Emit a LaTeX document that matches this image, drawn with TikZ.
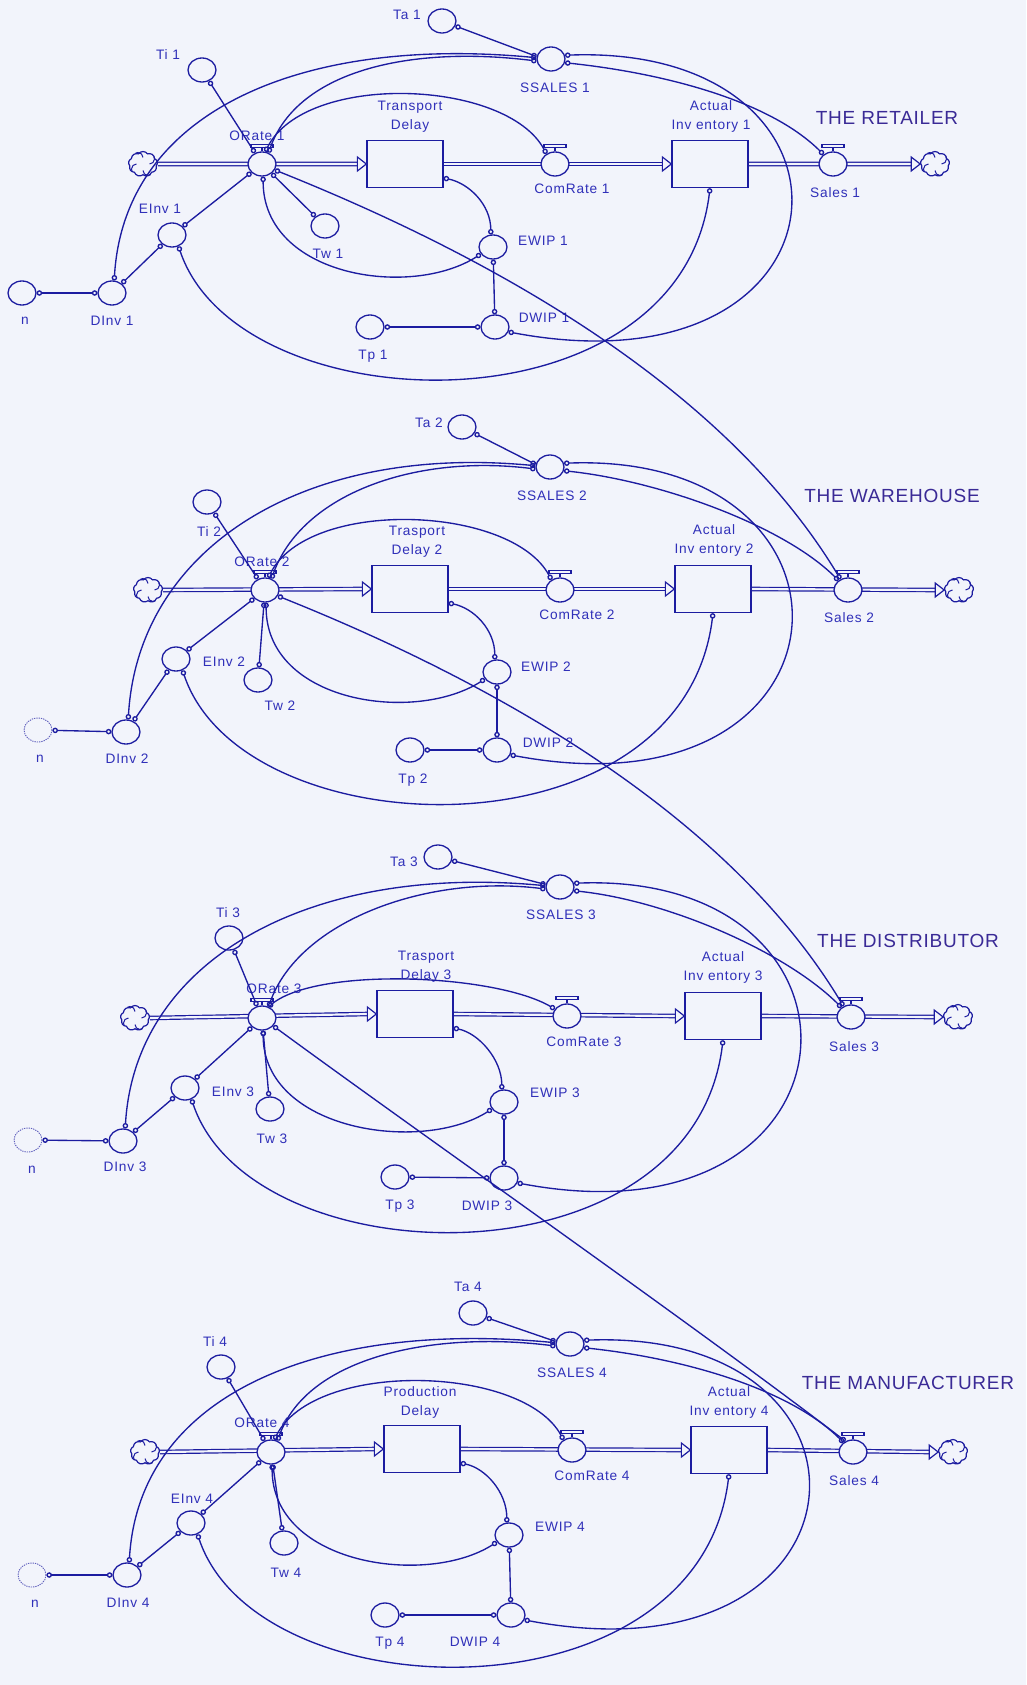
\documentclass[tikz,border=0pt]{standalone}
\usepackage{fontspec}
\setmainfont{Liberation Sans}
\newfontfamily\lblfam[LetterSpace=6]{Liberation Sans}
\newfontfamily\ttlfam[LetterSpace=4]{Liberation Sans}
\usetikzlibrary{shapes.geometric,shapes.symbols,arrows.meta,backgrounds}
\definecolor{ink}{RGB}{28,28,160}
\definecolor{txt}{RGB}{48,48,185}
\definecolor{ttlc}{RGB}{58,42,150}
\definecolor{bg}{RGB}{242,244,251}
\newcommand\vhandle[1]{%
  \draw[ink,line width=1.2pt] (#1.north) -- ++(0,-4);
  \draw[ink,line width=1.2pt,fill=bg] ([shift={(-11,-4)}]#1.north) rectangle ([shift={(11,-7)}]#1.north);}
\newcommand\swirl[1]{%
  \foreach \a in {0,90,180,270}{\draw[ink,line width=1pt] ([shift={(\a:6.5)}]#1.center) arc[start angle=\a+90, delta angle=-120, radius=5];}}
\newcommand\tri[1]{\draw[ink,line width=1.2pt,fill=bg] (#1.west) -- ++(-9,-7) -- ++(0,14) -- cycle;}
\begin{document}
\begin{tikzpicture}[x=1pt,y=-1pt,
  auxv/.style={ellipse,draw=ink,fill=bg,line width=1.3pt,minimum width=28pt,minimum height=24pt,inner sep=0pt},
  ghost/.style={auxv,densely dotted,line width=0.9pt,draw=ink!70},
  valve/.style={auxv},
  stock/.style={rectangle,draw=ink,fill=bg,line width=1.3pt,minimum width=76pt,minimum height=47pt,inner sep=0pt},
  cloudn/.style={cloud,cloud puffs=9,cloud puff arc=110,aspect=1.1,draw=ink,fill=bg,line width=1.2pt,minimum width=29pt,minimum height=25pt,inner sep=0pt},
  lbl/.style={text=txt,font=\lblfam\fontsize{13.7}{19}\selectfont,inner sep=0pt,align=center},
  ttl/.style={text=ttlc,font=\ttlfam\fontsize{19}{21}\selectfont,inner sep=0pt},
  link/.style={draw=ink,line width=1.35pt,{Circle[open,length=5.5pt,width=5.5pt]}-{Circle[open,length=5.5pt,width=5.5pt]}},
  pipe/.style={draw=ink,line width=1.2pt,double=bg,double distance=2.2pt}]
\path[use as bounding box] (0,0) rectangle (1026,1685);

% ---------------- Section 1: retailer
\node[auxv] (ta1) at (442,21) {};
\node[auxv] (ti1) at (202,70) {};
\node[cloudn] (src1) at (143,164) {};
\node[valve] (or1) at (262,164) {};
\node[stock] (td1) at (405,164) {};
\node[auxv] (einv1) at (172,235) {};
\node[auxv] (tw1) at (325,226) {};
\node[auxv] (n1) at (22,293) {};
\node[auxv] (dinv1) at (112,293) {};
\node[auxv] (tp1) at (370,327) {};
\node[auxv] (ewip1) at (493,247) {};
\node[auxv] (dwip1) at (495,327) {};
\node[auxv] (ss1) at (551,59) {};
\node[valve] (cr1) at (555,164) {};
\node[stock] (ai1) at (710,164) {};
\node[valve] (sal1) at (833,164) {};
\node[cloudn] (snk1) at (935,164) {};

\node[lbl] (lta1) at (407,15) {Ta 1};
\node[lbl] (lti1) at (168,55) {Ti 1};
\node[lbl] (lor1) at (257,136) {ORate 1};
\node[lbl] (ltd1) at (410,117) {Transport\\Delay};
\node[lbl] (leinv1) at (160,209) {EInv 1};
\node[lbl] (ltw1) at (328,254) {Tw 1};
\node[lbl] (ln1) at (25,321) {n};
\node[lbl] (ldinv1) at (112,321) {DInv 1};
\node[lbl] (ltp1) at (373,356) {Tp 1};
\node[lbl] (lewip1) at (543,241) {EWIP 1};
\node[lbl] (ldwip1) at (544,318) {DWIP 1};
\node[lbl] (lss1) at (555,88) {SSALES 1};
\node[lbl] (lcr1) at (572,189) {ComRate 1};
\node[lbl] (lai1) at (711,116) {Actual\\Inv entory 1};
\node[lbl] (lsal1) at (835,193) {Sales 1};
\node[ttl] (title1) at (887,118) {THE RETAILER};

% ---------------- Section 2: warehouse
\node[auxv] (ta2) at (462,427) {};
\node[auxv] (ti2) at (207,502) {};
\node[cloudn] (src2) at (148,590) {};
\node[valve] (or2) at (265,590) {};
\node[stock] (td2) at (410,589) {};
\node[auxv] (einv2) at (176,659) {};
\node[auxv] (tw2) at (258,680) {};
\node[ghost] (n2) at (38,730) {};
\node[auxv] (dinv2) at (126,732) {};
\node[auxv] (tp2) at (410,750) {};
\node[auxv] (ewip2) at (497,672) {};
\node[auxv] (dwip2) at (497,750) {};
\node[auxv] (ss2) at (550,467) {};
\node[valve] (cr2) at (560,590) {};
\node[stock] (ai2) at (713,589) {};
\node[valve] (sal2) at (848,590) {};
\node[cloudn] (snk2) at (959,590) {};

\node[lbl] (lta2) at (429,423) {Ta 2};
\node[lbl] (lti2) at (209,532) {Ti 2};
\node[lbl] (lor2) at (262,562) {ORate 2};
\node[lbl] (ltd2) at (417,542) {Trasport\\Delay 2};
\node[lbl] (leinv2) at (224,662) {EInv 2};
\node[lbl] (ltw2) at (280,706) {Tw 2};
\node[lbl] (ln2) at (40,759) {n};
\node[lbl] (ldinv2) at (127,759) {DInv 2};
\node[lbl] (ltp2) at (413,780) {Tp 2};
\node[lbl] (lewip2) at (546,667) {EWIP 2};
\node[lbl] (ldwip2) at (548,743) {DWIP 2};
\node[lbl] (lss2) at (552,496) {SSALES 2};
\node[lbl] (lcr2) at (577,615) {ComRate 2};
\node[lbl] (lai2) at (714,540) {Actual\\Inv entory 2};
\node[lbl] (lsal2) at (849,618) {Sales 2};
\node[ttl] (title2) at (892,496) {THE WAREHOUSE};

% ---------------- Section 3: distributor
\node[auxv] (ta3) at (438,857) {};
\node[auxv] (ti3) at (229,938) {};
\node[cloudn] (src3) at (135,1018) {};
\node[valve] (or3) at (262,1018) {};
\node[stock] (td3) at (415,1014) {};
\node[auxv] (einv3) at (185,1088) {};
\node[auxv] (tw3) at (270,1109) {};
\node[ghost] (n3) at (28,1140) {};
\node[auxv] (dinv3) at (123,1141) {};
\node[auxv] (tp3) at (395,1177) {};
\node[auxv] (ewip3) at (504,1102) {};
\node[auxv] (dwip3) at (504,1178) {};
\node[auxv] (ss3) at (560,887) {};
\node[valve] (cr3) at (567,1016) {};
\node[stock] (ai3) at (723,1016) {};
\node[valve] (sal3) at (851,1017) {};
\node[cloudn] (snk3) at (958,1017) {};

\node[lbl] (lta3) at (404,862) {Ta 3};
\node[lbl] (lti3) at (228,913) {Ti 3};
\node[lbl] (lor3) at (274,989) {ORate 3};
\node[lbl] (ltd3) at (426,967) {Trasport\\Delay 3};
\node[lbl] (leinv3) at (233,1092) {EInv 3};
\node[lbl] (ltw3) at (272,1139) {Tw 3};
\node[lbl] (ln3) at (32,1170) {n};
\node[lbl] (ldinv3) at (125,1167) {DInv 3};
\node[lbl] (ltp3) at (400,1206) {Tp 3};
\node[lbl] (lewip3) at (555,1093) {EWIP 3};
\node[lbl] (ldwip3) at (487,1206) {DWIP 3};
\node[lbl] (lss3) at (561,915) {SSALES 3};
\node[lbl] (lcr3) at (584,1042) {ComRate 3};
\node[lbl] (lai3) at (723,967) {Actual\\Inv entory 3};
\node[lbl] (lsal3) at (854,1047) {Sales 3};
\node[ttl] (title3) at (908,941) {THE DISTRIBUTOR};

% ---------------- Section 4: manufacturer
\node[auxv] (ta4) at (473,1313) {};
\node[auxv] (ti4) at (221,1367) {};
\node[cloudn] (src4) at (145,1452) {};
\node[valve] (or4) at (271,1452) {};
\node[stock] (td4) at (422,1449) {};
\node[auxv] (einv4) at (191,1523) {};
\node[auxv] (tw4) at (284,1543) {};
\node[ghost] (n4) at (32,1575) {};
\node[auxv] (dinv4) at (127,1575) {};
\node[auxv] (tp4) at (385,1615) {};
\node[auxv] (ewip4) at (509,1535) {};
\node[auxv] (dwip4) at (511,1615) {};
\node[auxv] (ss4) at (570,1344) {};
\node[valve] (cr4) at (572,1450) {};
\node[stock] (ai4) at (729,1450) {};
\node[valve] (sal4) at (853,1452) {};
\node[cloudn] (snk4) at (953,1452) {};

\node[lbl] (lta4) at (468,1287) {Ta 4};
\node[lbl] (lti4) at (215,1342) {Ti 4};
\node[lbl] (lor4) at (262,1423) {ORate 4};
\node[lbl] (ltd4) at (420,1402) {Production\\Delay};
\node[lbl] (leinv4) at (192,1499) {EInv 4};
\node[lbl] (ltw4) at (286,1573) {Tw 4};
\node[lbl] (ln4) at (35,1604) {n};
\node[lbl] (ldinv4) at (128,1603) {DInv 4};
\node[lbl] (ltp4) at (390,1643) {Tp 4};
\node[lbl] (lewip4) at (560,1527) {EWIP 4};
\node[lbl] (ldwip4) at (475,1642) {DWIP 4};
\node[lbl] (lss4) at (572,1373) {SSALES 4};
\node[lbl] (lcr4) at (592,1476) {ComRate 4};
\node[lbl] (lai4) at (729,1402) {Actual\\Inv entory 4};
\node[lbl] (lsal4) at (854,1481) {Sales 4};
\node[ttl] (title4) at (908,1383) {THE MANUFACTURER};

% ---------------- pipes (background)
\begin{pgfonlayer}{background}
\fill[bg] (0,0) rectangle (1026,1685);
\foreach \i in {1,2,3,4}{
  \draw[pipe] (src\i.east) -- ([xshift=-9pt]td\i.west);
  \draw[pipe] (td\i.east) -- ([xshift=-9pt]ai\i.west);
  \draw[pipe] (ai\i.east) -- ([xshift=-9pt]snk\i.west);
}
\end{pgfonlayer}

\foreach \i in {1,2,3,4}{
  \tri{td\i} \tri{ai\i} \tri{snk\i}
  \vhandle{or\i} \vhandle{cr\i} \vhandle{sal\i}
  \swirl{src\i} \swirl{snk\i}
  % straight links
  \draw[link] (ta\i) -- (ss\i.170);
  \draw[link] (ti\i) -- (or\i);
  \draw[link] (n\i) -- (dinv\i);
  \draw[link] (dinv\i) -- (einv\i);
  \draw[link] (einv\i) -- (or\i);
  \draw[link] (tw\i) -- (or\i);
  \draw[link] (tp\i) -- (dwip\i);
  \draw[link] (dwip\i) -- (ewip\i);
  % curved links
  \draw[link] (ss\i.175) .. controls +(-234,-22) and +(10,-170) .. (dinv\i.80);
  \draw[link] (ss\i.188) .. controls +(-120,-15) and +(30,-85) .. (or\i.60);
  \draw[link] (td\i.-20) .. controls +(25,5) and +(0,-30) .. (ewip\i.100);
  \draw[link] (ewip\i.-150) .. controls +(-70,45) and +(0,100) .. (or\i.-85);
  \draw[link] (ss\i.15) .. controls +(320,-12) and +(355,67) .. (dwip\i.-20);
  \draw[link] (ss\i.-15) .. controls +(95,10) and +(-55,-55) .. (sal\i.135);
  \draw[link] (ai\i.south) .. controls +(-30,250) and +(60,180) .. (einv\i.-60);
}
% ORate -> ComRate arcs
\foreach \i in {1,2,4}{
  \draw[link] (or\i.75) .. controls +(40,-80) and +(-40,-75) .. (cr\i.130);
}
\draw[link] (or3.60) .. controls +(50,-40) and +(-60,-35) .. (cr3.150);
% orders become the upstream sales
\draw[link] (or1.-25) .. controls +(200,80) and +(-120,-200) .. (sal2.125);
\draw[link] (or2.-25) .. controls +(200,80) and +(-120,-200) .. (sal3.125);
\draw[link] (or3.-35) .. controls +(150,110) and +(-150,-115) .. (sal4.125);
\end{tikzpicture}
\end{document}
